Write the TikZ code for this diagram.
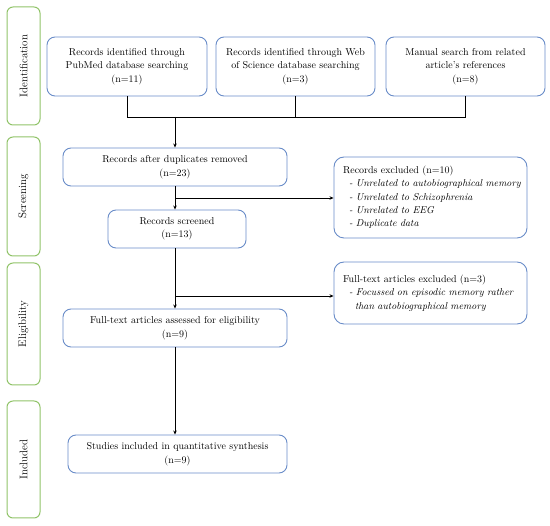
\documentclass[tikz,border=0pt]{standalone}
\usetikzlibrary{arrows.meta}
\definecolor{boxblue}{RGB}{105,140,200}
\definecolor{phasegreen}{RGB}{145,195,105}
\begin{document}
\begin{tikzpicture}[x=1pt,y=-1pt,
  phase/.style={draw=phasegreen, line width=1pt, rounded corners=6pt, minimum width=33pt, font=\fontsize{11}{13}\selectfont},
  flowbox/.style={draw=boxblue, line width=0.9pt, rounded corners=8pt, align=center, inner sep=2pt, font=\fontsize{10}{13.5}\selectfont},
  exclbox/.style={draw=boxblue, line width=0.9pt, rounded corners=10pt, align=left, inner xsep=9pt, inner ysep=2pt, font=\fontsize{10}{13.3}\selectfont},
  conn/.style={line width=0.8pt, black},
  arr/.style={conn, -{Stealth[length=4pt,width=3.5pt]}}]
\useasboundingbox (0,0) rectangle (550,526);
% phases
\node[phase, minimum height=118pt] (ph1) at (23.5,66) {\rotatebox{90}{Identification}};
\node[phase, minimum height=119pt] (ph2) at (23.5,196.5) {\rotatebox{90}{Screening}};
\node[phase, minimum height=122pt] (ph3) at (23.5,324) {\rotatebox{90}{Eligibility}};
\node[phase, minimum height=117pt] (ph4) at (23.5,459.5) {\rotatebox{90}{Included}};
% identification
\node[flowbox, minimum width=160pt, minimum height=59pt] (pub) at (127,66.5) {Records identified through\\PubMed database searching\\(n=11)};
\node[flowbox, minimum width=159pt, minimum height=59pt] (wos) at (295.5,66.5) {Records identified through Web\\of Science database searching\\(n=3)};
\node[flowbox, minimum width=159pt, minimum height=59pt] (man) at (465.5,66.5) {Manual search from related\\article's references\\(n=8)};
% screening
\node[flowbox, minimum width=224pt, minimum height=38pt] (dup) at (175,167) {Records after duplicates removed\\(n=23)};
\node[flowbox, minimum width=138pt, minimum height=38pt] (scr) at (177,229) {Records screened\\(n=13)};
\node[exclbox, text width=175pt, minimum height=81pt] (ex1) at (430.5,197.5) {\mbox{Records excluded (n=10)}\\
\mbox{\hspace*{6pt}\textit{- Unrelated to autobiographical memory}}\\
\mbox{\hspace*{6pt}\textit{- Unrelated to Schizophrenia}}\\
\mbox{\hspace*{6pt}\textit{- Unrelated to EEG}}\\
\mbox{\hspace*{6pt}\textit{- Duplicate data}}};
% eligibility
\node[exclbox, text width=175pt, minimum height=62pt] (ex2) at (430.5,293) {\mbox{Full-text articles excluded (n=3)}\\
\mbox{\hspace*{6pt}\textit{- Focussed on episodic memory rather}}\\
\mbox{\hspace*{12pt}\textit{than autobiographical memory}}};
\node[flowbox, minimum width=224pt, minimum height=38pt] (full) at (175,328) {Full-text articles assessed for eligibility\\(n=9)};
% included
\node[flowbox, minimum width=219pt, minimum height=38pt] (inc) at (177.5,454) {Studies included in quantitative synthesis\\(n=9)};
% connectors
\coordinate (j1) at (175,117);
\coordinate (j2) at (175,198);
\coordinate (j3) at (175,296);
\draw[conn] (pub.south) -- (pub.south |- j1) -- (man.south |- j1) -- (man.south);
\draw[conn] (wos.south) -- (wos.south |- j1);
\draw[arr] (j1) -- (j1 |- dup.north);
\draw[arr] (j1 |- dup.south) -- (j1 |- scr.north);
\draw[arr] (j2) -- (ex1.west |- j2);
\draw[arr] (j1 |- scr.south) -- (j1 |- full.north);
\draw[arr] (j3) -- (ex2.west |- j3);
\draw[arr] (j1 |- full.south) -- (j1 |- inc.north);
\end{tikzpicture}
\end{document}
